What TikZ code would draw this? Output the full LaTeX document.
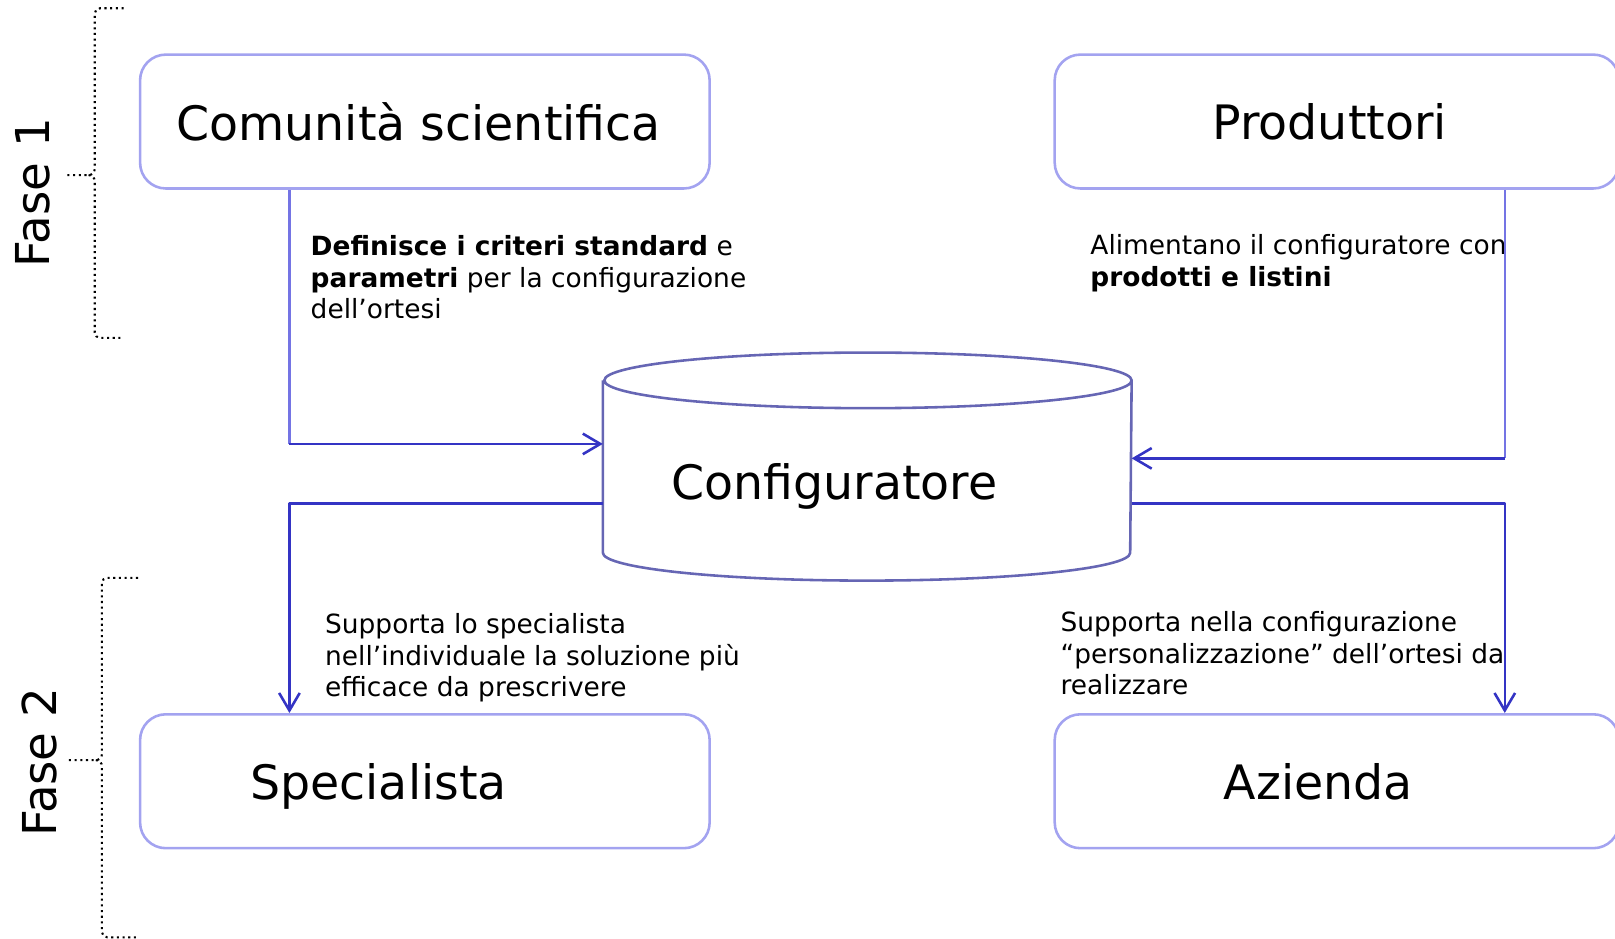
\documentclass[tikz,border=0pt]{standalone}
\usepackage{fontspec}
\setmainfont{DejaVu Sans}
\usetikzlibrary{arrows.meta}
\definecolor{boxline}{HTML}{A3A3F0}
\definecolor{feedline}{HTML}{7474E4}
\definecolor{flowline}{HTML}{3434C4}
\definecolor{cylline}{HTML}{6666B4}
\begin{document}
\begin{tikzpicture}[x=0.1mm, y=-0.1mm, line join=round,
  actor/.style={draw=boxline, line width=0.25mm, rounded corners=2.5mm, minimum width=55.3mm, minimum height=13mm, text depth=0pt, font=\fontsize{13.1}{15}\selectfont},
  note/.style={anchor=north west, inner sep=0pt, align=left, font=\fontsize{7.3}{8.75}\selectfont},
  feed/.style={draw=feedline, line width=0.25mm},
  flow/.style={draw=flowline, line width=0.25mm, -{Straight Barb[length=1.7mm, width=2mm]}},
  fase/.style={rotate=90, font=\fontsize{12.9}{14}\selectfont},
  brace/.style={densely dotted, line width=0.2mm}]
\useasboundingbox (0,0) rectangle (1568,911);
% fasi
\node[fase] (f1) at (32,187) {Fase 1};
\node[fase] (f2) at (38,740) {Fase 2};
\draw[brace] (120,8) -- (97,8) to[out=180, in=90] (92,13) -- (92,164) to[out=-90, in=0] (86,170) -- (63,170);
\draw[brace] (86,170) to[out=0, in=90] (92,176) -- (92,323) to[out=-90, in=180] (97,328) -- (120,328);
\draw[brace] (134,561) -- (104,561) to[out=180, in=90] (99,566) -- (99,732) to[out=-90, in=0] (93,738) -- (65,738);
\draw[brace] (93,738) to[out=0, in=90] (99,744) -- (99,905) to[out=-90, in=180] (104,910) -- (134,910);
% attori
\node[actor] (com) at (412.5,118) {\hspace*{-1.2mm}Comunità scientifica};
\node[actor, minimum width=54.8mm] (prod) at (1298,118) {\hspace*{-1.4mm}Produttori};
\node[actor] (spec) at (412.5,758.5) {\hspace*{-9mm}Specialista};
\node[actor, minimum width=54.8mm] (az) at (1298,758.5) {\hspace*{-3.6mm}Azienda};
% configuratore
\node[minimum width=51.2mm, minimum height=22mm, inner sep=0pt] (conf) at (842,453) {};
\draw[cylline, line width=0.25mm] ([yshift=-2.7mm]conf.north west) -- ([yshift=2.7mm]conf.south west)
  arc[start angle=180, end angle=360, x radius=25.6mm, y radius=2.7mm] -- ([yshift=-2.7mm]conf.north east)
  arc[start angle=0, end angle=360, x radius=25.6mm, y radius=2.7mm];
\node[font=\fontsize{13.1}{15}\selectfont] (conflbl) at (810,472) {Configuratore};
% note
\node[note] (defnote) at (301,228) {\textbf{Definisce i criteri standard} e\\ \textbf{parametri} per la configurazione\\ dell’ortesi};
\node[note] (alnote) at (1058,227) {Alimentano il configuratore con\\ \textbf{prodotti e listini}};
\node[note] (spnote) at (315,595) {Supporta lo specialista\\ nell’individuale la soluzione più\\ efficace da prescrivere};
\node[note] (aznote) at (1029,593) {Supporta nella configurazione\\ “personalizzazione” dell’ortesi da\\ realizzare};
% collegamenti
\coordinate (lt) at (281,431);
\coordinate (lb) at (281,489);
\coordinate (rt) at (1461,445);
\coordinate (rb) at (1461,489);
\draw[feed] (com.south -| lt) -- (lt);
\draw[flow] (lt) -- (lt -| conf.west);
\draw[flow] (lb -| conf.west) -| (spec.north -| lb);
\draw[feed] (prod.south -| rt) -- (rt);
\draw[flow] (rt) -- (rt -| conf.east);
\draw[flow] (rb -| conf.east) -| (az.north -| rb);
\end{tikzpicture}
\end{document}
